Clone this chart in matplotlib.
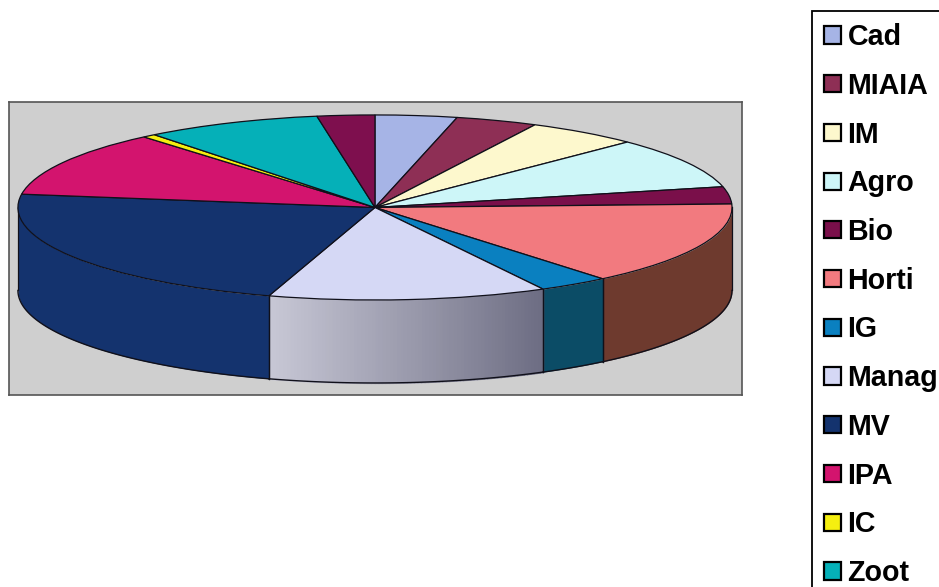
#!/usr/bin/env python
import numpy as np
from matplotlib import pyplot as plt
from matplotlib import colors as mcolors
from matplotlib import rcParams

labels = ['Cad', 'MIAIA', 'IM', 'Agro', 'Bio', 'Horti', 'IG', 'Manag',
          'MV', 'IPA', 'IC', 'Zoot', '']
shares = [3.7, 3.7, 5.1, 8.9, 3.0, 14.6, 3.2, 12.6, 22.5, 11.5, 0.6, 8.0, 2.6]
top_colors = ['#a6b4e6', '#8e2f55', '#fdf8cd', '#cdf6f8', '#7a0f4a', '#f27a7f',
              '#0a80c0', '#d5d8f5', '#14336e', '#d3146e', '#f5ef10', '#05b0b8',
              '#7e0f4e']
# only these slices show a side wall, (right and left colour of the wall)
wall_colors = {'Horti': ('#6e3a2e', '#6e3a2e'),
               'IG': ('#0b4c66', '#0b4c66'),
               'Manag': ('#6c6c82', '#c8c8d6'),
               'MV': ('#14336e', '#14336e')}

depth = 0.897
edge = '#10101a'

rcParams['font.family'] = ['Liberation Sans', 'DejaVu Sans']
fig = plt.figure(figsize=(9.39, 5.87), dpi=100, facecolor='white')
W, H = 939.0, 587.0
ax = fig.add_axes([9 / W, 1 - 395 / H, 733 / W, 293 / H])

wedges, _ = ax.pie(shares, colors=top_colors, startangle=90, counterclock=False,
                   wedgeprops={'edgecolor': edge, 'linewidth': 0.9, 'zorder': 3})
# pie is squashed to an ellipse by giving up the equal aspect
ax.set_aspect('auto')
ax.set_xlim(-1.025, 1.028)
ax.set_ylim(-2.027, 1.14)
ax.set_xticks([])
ax.set_yticks([])
ax.set_frame_on(True)
ax.set_facecolor('#cfcfcf')
for s in ax.spines.values():
    s.set_color('#555555')
    s.set_linewidth(1.2)

# side wall, clockwise from 12 o'clock
ends = np.cumsum(shares) * 3.6
starts = ends - np.array(shares) * 3.6
for name, a0, a1 in zip(labels, starts, ends):
    if name not in wall_colors:
        continue
    a0, a1 = max(a0, 90), min(a1, 270)
    steps = np.linspace(a0, a1, 80)
    t = np.radians(steps)
    c_right = np.array(mcolors.to_rgb(wall_colors[name][0]))
    c_left = np.array(mcolors.to_rgb(wall_colors[name][1]))
    if wall_colors[name][0] == wall_colors[name][1]:
        ax.fill_between(np.sin(t), np.cos(t), np.cos(t) - depth, color=c_right,
                        lw=0, zorder=1)
    else:
        for i in range(len(steps) - 1):
            f = (i + 0.5) / (len(steps) - 1)
            ax.fill_between(np.sin(t[i:i + 2]), np.cos(t[i:i + 2]),
                            np.cos(t[i:i + 2]) - depth,
                            color=c_right + (c_left - c_right) * f, lw=1.0, zorder=1)
    for a in (a0, a1):
        r = np.radians(a)
        ax.plot([np.sin(r)] * 2, [np.cos(r), np.cos(r) - depth], color=edge,
                lw=0.9, zorder=2)
    ax.plot(np.sin(t), np.cos(t) - depth, color=edge, lw=1.0, zorder=2)

leg = fig.legend(wedges[:12], labels[:12], loc='upper left',
                 bbox_to_anchor=(812 / W, 1 - 11 / H), borderaxespad=0,
                 prop={'weight': 'bold', 'size': 20.6}, fancybox=False,
                 framealpha=1, edgecolor='black', borderpad=0.42,
                 handlelength=0.6, handleheight=0.55, handletextpad=0.22,
                 labelspacing=0.725)
leg.get_frame().set_linewidth(1.3)
for p in leg.get_patches():
    p.set_edgecolor('black')
    p.set_linewidth(1.6)

plt.savefig('out.png', dpi=100)
